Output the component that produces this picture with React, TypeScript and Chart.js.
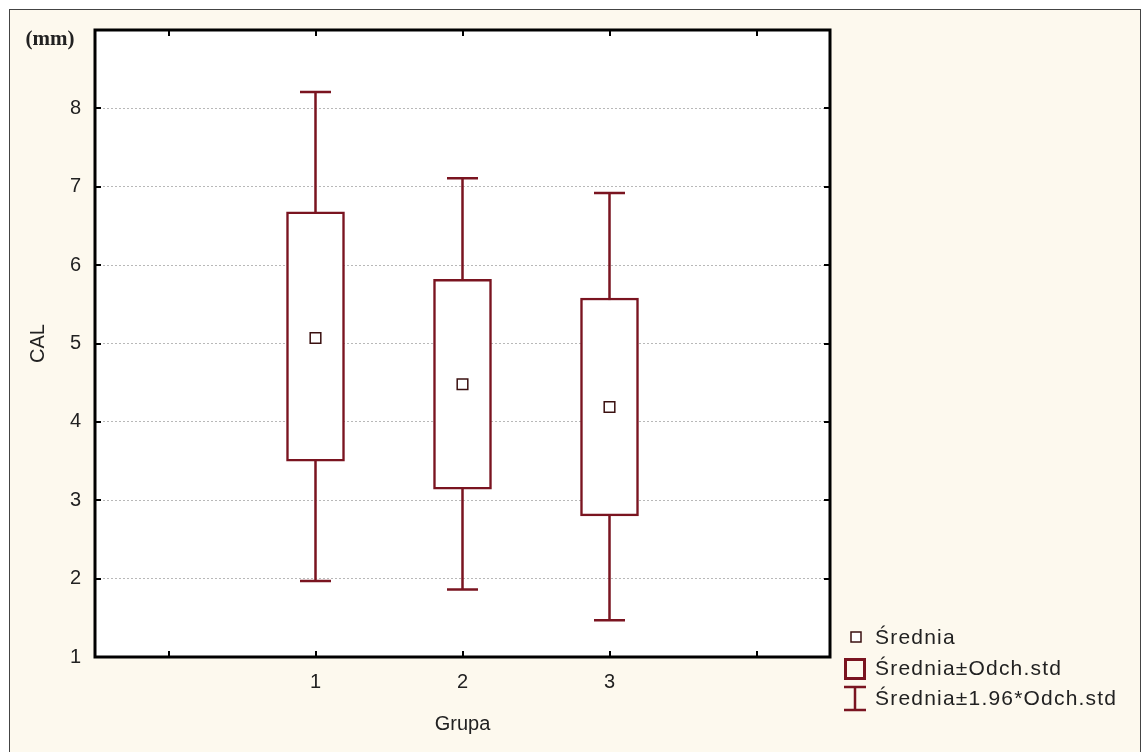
import React, { useEffect, useLayoutEffect, useRef } from 'react';
import { Chart, registerables } from 'chart.js';

Chart.register(...registerables);

// ---- data ----
const groups = [1, 2, 3];
const means = [5.07, 4.48, 4.19];
const sdLow = [3.5, 3.14, 2.8];
const sdHigh = [6.68, 5.82, 5.58];
const ciLow = [1.97, 1.86, 1.47];
const ciHigh = [8.21, 7.11, 6.92];
const yTickValues = [1, 2, 3, 4, 5, 6, 7, 8, 9];
const xTickValues = [1, 2, 3];
const xMinorTicks = [0, 1, 2, 3, 4];
const legendLabels = ['Średnia', 'Średnia±Odch.std', 'Średnia±1.96*Odch.std'];
const yUnit = '(mm)';
const xTitle = 'Grupa';
const yTitle = 'CAL';

const MAROON = '#7a1420';
const TEXT = '#222222';
const BEIGE = '#fdf9ee';
const FONT = '"Liberation Sans", Arial, sans-serif';

const decorPlugin = {
  id: 'decor',
  beforeDraw(chart: any) {
    const { ctx, width, height, chartArea } = chart;
    ctx.save();
    ctx.fillStyle = '#ffffff';
    ctx.fillRect(0, 0, width, height);
    ctx.fillStyle = BEIGE;
    ctx.fillRect(9, 9, width - 10, height);
    ctx.strokeStyle = '#444';
    ctx.lineWidth = 1;
    ctx.strokeRect(9.5, 9.5, 1131, height + 5);
    ctx.fillStyle = '#ffffff';
    ctx.fillRect(chartArea.left, chartArea.top, chartArea.right - chartArea.left, chartArea.bottom - chartArea.top);
    ctx.restore();
  },
  beforeDatasetsDraw(chart: any) {
    const { ctx, scales } = chart;
    const xs = scales.x, ys = scales.y;
    ctx.save();
    ctx.strokeStyle = MAROON;
    ctx.lineWidth = 2.5;
    groups.forEach((g, i) => {
      const x = xs.getPixelForValue(g);
      const y1 = ys.getPixelForValue(ciHigh[i]);
      const y2 = ys.getPixelForValue(ciLow[i]);
      ctx.beginPath();
      ctx.moveTo(x, y1);
      ctx.lineTo(x, y2);
      ctx.moveTo(x - 15.5, y1);
      ctx.lineTo(x + 15.5, y1);
      ctx.moveTo(x - 15.5, y2);
      ctx.lineTo(x + 15.5, y2);
      ctx.stroke();
    });
    ctx.restore();
  },
  afterDraw(chart: any) {
    const { ctx, chartArea, scales } = chart;
    const { left, right, top, bottom } = chartArea;
    const xs = scales.x, ys = scales.y;
    ctx.save();
    // inward ticks
    ctx.strokeStyle = '#000';
    ctx.lineWidth = 2;
    ctx.beginPath();
    xMinorTicks.forEach((v) => {
      const x = Math.round(xs.getPixelForValue(v));
      ctx.moveTo(x, bottom);
      ctx.lineTo(x, bottom - 6);
      ctx.moveTo(x, top);
      ctx.lineTo(x, top + 6);
    });
    yTickValues.slice(1, -1).forEach((v) => {
      const y = Math.round(ys.getPixelForValue(v));
      ctx.moveTo(left, y);
      ctx.lineTo(left + 6, y);
      ctx.moveTo(right, y);
      ctx.lineTo(right - 6, y);
    });
    ctx.stroke();
    // frame
    ctx.lineWidth = 3;
    ctx.strokeRect(left, top, right - left, bottom - top);
    // unit
    ctx.fillStyle = TEXT;
    ctx.font = 'bold 21px "Liberation Serif", serif';
    ctx.textAlign = 'center';
    ctx.textBaseline = 'middle';
    ctx.fillText(yUnit, 50, 40);
    // legend
    const lx = 844;
    ctx.textAlign = 'left';
    ctx.font = '21px ' + FONT;
    (ctx as any).letterSpacing = '1.2px';
    const rows = [637, 668, 698];
    legendLabels.forEach((t, i) => ctx.fillText(t, 875, rows[i] + 1));
    (ctx as any).letterSpacing = '0px';
    // row 1: small square
    ctx.strokeStyle = '#3a1010';
    ctx.lineWidth = 1.5;
    ctx.fillStyle = '#fff';
    ctx.fillRect(851, 632, 10, 10);
    ctx.strokeRect(851, 632, 10, 10);
    // row 2: box
    ctx.strokeStyle = MAROON;
    ctx.lineWidth = 3;
    ctx.strokeRect(lx + 1.5, 659.5, 19, 19);
    // row 3: I-beam
    ctx.lineWidth = 2.5;
    ctx.beginPath();
    ctx.moveTo(lx, 687);
    ctx.lineTo(lx + 22, 687);
    ctx.moveTo(lx + 11, 687);
    ctx.lineTo(lx + 11, 710);
    ctx.moveTo(lx, 710);
    ctx.lineTo(lx + 22, 710);
    ctx.stroke();
    ctx.restore();
  },
};

export default function App() {
  const ref = useRef<HTMLCanvasElement | null>(null);
  useLayoutEffect(() => {
    document.body.style.margin = '0';
    document.body.style.overflow = 'hidden';
  }, []);
  useEffect(() => {
    if (!ref.current) return;
    const chart = new Chart(ref.current, {
      type: 'bar',
      data: {
        datasets: [
          {
            type: 'bar',
            label: legendLabels[1],
            data: groups.map((g, i) => ({ x: g, y: [sdLow[i], sdHigh[i]] })) as any,
            backgroundColor: '#ffffff',
            borderColor: MAROON,
            borderWidth: 2.5,
            borderSkipped: false,
            barThickness: 58,
            order: 2,
          } as any,
          {
            type: 'scatter',
            label: legendLabels[0],
            data: groups.map((g, i) => ({ x: g, y: means[i] })),
            pointStyle: 'rect',
            pointRadius: 7.5,
            backgroundColor: '#ffffff',
            borderColor: '#3a1010',
            borderWidth: 1.5,
            order: 1,
          } as any,
        ],
      },
      options: {
        animation: false,
        responsive: true,
        maintainAspectRatio: false,
        layout: { padding: { left: 0, top: 30, right: 312, bottom: 0 } },
        plugins: { legend: { display: false }, tooltip: { enabled: false } },
        scales: {
          x: {
            type: 'linear',
            min: -0.5,
            max: 4.5,
            offset: false,
            afterFit: (s: any) => { s.height = 95; },
            afterBuildTicks: (s: any) => { s.ticks = xTickValues.map((v) => ({ value: v })); },
            grid: { display: false },
            border: { display: false },
            ticks: { color: TEXT, font: { family: FONT, size: 20 }, padding: 5, maxRotation: 0 },
            title: { display: true, text: xTitle, color: TEXT, font: { family: FONT, size: 20 }, padding: { top: 0, bottom: 16 } },
          },
          y: {
            type: 'linear',
            min: 1,
            max: 9,
            afterFit: (s: any) => { s.width = 95; },
            afterBuildTicks: (s: any) => { s.ticks = yTickValues.map((v) => ({ value: v })); },
            grid: {
              drawTicks: false,
              color: (c: any) => (c.tick && (c.tick.value === 1 || c.tick.value === 9) ? 'rgba(0,0,0,0)' : '#b8b8b8'),
              lineWidth: 1,
            },
            border: { display: false, dash: [2, 2] },
            ticks: {
              color: TEXT,
              font: { family: FONT, size: 20 },
              padding: 14,
              callback: (v: any) => (v === 9 ? '' : String(v)),
            },
            title: { display: true, text: yTitle, color: TEXT, font: { family: FONT, size: 20 }, padding: { top: 26, bottom: 0 } },
          },
        },
      },
      plugins: [decorPlugin],
    });
    return () => chart.destroy();
  }, []);
  return (
    <div style={{ width: 1142, height: 752, position: 'relative' }}>
      <canvas ref={ref} />
    </div>
  );
}
